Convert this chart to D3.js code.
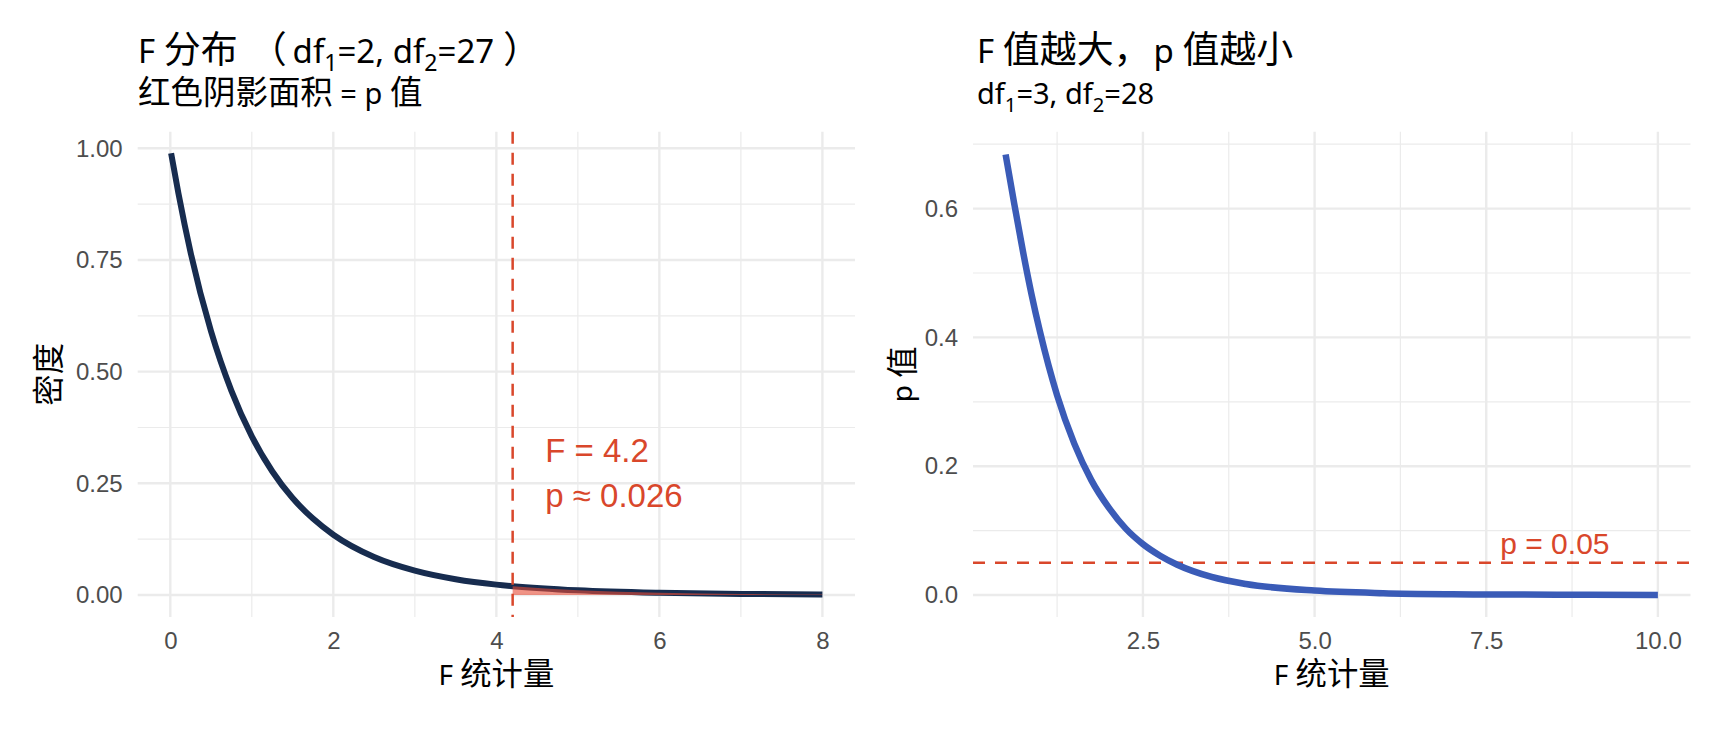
<!DOCTYPE html>
<html>
<head>
<meta charset="utf-8">
<script src="https://cdn.jsdelivr.net/npm/d3@7"></script>
<style>
  body { margin: 0; background: #fff; }
  svg { display: block; }
</style>
</head>
<body>
<div id="graphic"></div>
<script>
// left panel: F(2,27) density
const leftF = [0.01, 0.1, 0.25, 0.5, 0.75, 1, 1.25, 1.5, 1.75, 2, 2.5, 3, 3.5, 4, 4.2, 5, 6, 7, 8];
const leftDensity = [0.989, 0.899, 0.766, 0.590, 0.457, 0.355, 0.277, 0.217, 0.171, 0.135, 0.085, 0.0545, 0.0353, 0.0232, 0.0197, 0.0104, 0.0048, 0.0023, 0.0012];
const leftXTicks = [0, 2, 4, 6, 8];
const leftXMinor = [1, 3, 5, 7];
const leftYTicks = [0, 0.25, 0.5, 0.75, 1];
const leftYMinor = [0.125, 0.375, 0.625, 0.875];
const fObserved = 4.2;
const pObserved = 0.026;

// right panel: p value vs F, df 3 and 28
const rightF = [0.5, 0.625, 0.75, 0.875, 1, 1.25, 1.5, 1.75, 2, 2.25, 2.5, 2.75, 3, 3.5, 4, 5, 6, 7, 8, 9, 10];
const rightP = [0.684, 0.608, 0.535, 0.468, 0.409, 0.310, 0.235, 0.178, 0.136, 0.103, 0.079, 0.061, 0.047, 0.028, 0.017, 0.0068, 0.0028, 0.0012, 0.0006, 0.0003, 0.0001];
const rightXTicks = [2.5, 5, 7.5, 10];
const rightXMinor = [1.25, 3.75, 6.25, 8.75];
const rightYTicks = [0, 0.2, 0.4, 0.6];
const rightYMinor = [0.1, 0.3, 0.5, 0.7];
const alpha = 0.05;

const navy = "#172c4f", blue = "#3a5bb7", red = "#d9472b";
const cjk = "'Noto Sans', 'Noto Sans CJK SC', sans-serif";
const tickFont = "'Liberation Sans', Arial, sans-serif";

const svg = d3.select("#graphic")
    .append("svg")
    .attr("width", 1728)
    .attr("height", 729);

svg.append("rect").attr("width", 1728).attr("height", 729).attr("fill", "#fff");

const panelTop = 131.7, panelBottom = 617;

// text made of segments; CJK runs a bit larger, subscripts dropped
const cjkRe = /[\u3000-\u303f\u3400-\u9fff\uff00-\uffef]/;
function rich(sel, segs, size) {
    let shift = 0;
    segs.forEach(s => {
        const want = s.sub ? 8 : 0;
        const parts = s.t.match(/[\u3000-\u303f\u3400-\u9fff\uff00-\uffef]+|[^\u3000-\u303f\u3400-\u9fff\uff00-\uffef]+/g);
        parts.forEach((p, i) => {
            let fs = s.sub ? size * 0.7 : size;
            if (cjkRe.test(p)) fs *= 1.12;
            const t = sel.append("tspan").text(p).attr("font-size", fs);
            if (want !== shift) { t.attr("dy", want - shift); shift = want; }
            if (i === 0 && s.dx) t.attr("dx", s.dx);
        });
    });
}

function panel(opt) {
    const g = svg.append("g");
    const x = d3.scaleLinear().domain(opt.xDomain).range([opt.left, opt.right]);
    const y = d3.scaleLinear().domain(opt.yDomain).range([panelBottom, panelTop]);

    // grid
    g.selectAll(".hmin").data(opt.yMinor).join("line")
        .attr("x1", opt.left).attr("x2", opt.right)
        .attr("y1", d => y(d)).attr("y2", d => y(d))
        .attr("stroke", "#ebebeb").attr("stroke-width", 1.2);
    g.selectAll(".vmin").data(opt.xMinor).join("line")
        .attr("y1", panelTop).attr("y2", panelBottom)
        .attr("x1", d => x(d)).attr("x2", d => x(d))
        .attr("stroke", "#ebebeb").attr("stroke-width", 1.2);
    g.selectAll(".hmaj").data(opt.yTicks).join("line")
        .attr("x1", opt.left).attr("x2", opt.right)
        .attr("y1", d => y(d)).attr("y2", d => y(d))
        .attr("stroke", "#ebebeb").attr("stroke-width", 2.4);
    g.selectAll(".vmaj").data(opt.xTicks).join("line")
        .attr("y1", panelTop).attr("y2", panelBottom)
        .attr("x1", d => x(d)).attr("x2", d => x(d))
        .attr("stroke", "#ebebeb").attr("stroke-width", 2.4);

    // axes
    const xa = g.append("g")
        .attr("transform", `translate(0,${panelBottom})`)
        .call(d3.axisBottom(x).tickValues(opt.xTicks).tickFormat(opt.xFormat).tickSize(0).tickPadding(15));
    const ya = g.append("g")
        .attr("transform", `translate(${opt.left},0)`)
        .call(d3.axisLeft(y).tickValues(opt.yTicks).tickFormat(opt.yFormat).tickSize(0).tickPadding(15));
    [xa, ya].forEach(a => {
        a.select(".domain").remove();
        a.selectAll("text")
            .attr("font-family", tickFont)
            .attr("font-size", 24)
            .attr("fill", "#4d4d4d");
    });

    // titles
    g.append("text")
        .attr("x", opt.titleX).attr("y", 63)
        .attr("font-family", cjk).attr("fill", "#000")
        .call(rich, opt.title, 33);
    g.append("text")
        .attr("x", opt.titleX).attr("y", 104)
        .attr("font-family", cjk).attr("fill", "#000")
        .call(rich, opt.subtitle, 29);

    g.append("text")
        .attr("x", (opt.left + opt.right) / 2).attr("y", 685)
        .attr("text-anchor", "middle")
        .attr("font-family", cjk)
        .call(rich, [{ t: "F 统计量" }], 28);
    g.append("text")
        .attr("transform", `translate(${opt.yTitleX},${(panelTop + panelBottom) / 2}) rotate(-90)`)
        .attr("text-anchor", "middle")
        .attr("dominant-baseline", "central")
        .attr("font-family", cjk)
        .call(rich, [{ t: opt.yTitle }], 28);

    return { g, x, y };
}

// ---------- left ----------
const L = panel({
    left: 137.7, right: 855,
    xDomain: [-0.4, 8.4], yDomain: [-0.0493, 1.0372],
    xTicks: leftXTicks, xMinor: leftXMinor,
    yTicks: leftYTicks, yMinor: leftYMinor,
    xFormat: d3.format("d"), yFormat: d3.format(".2f"),
    titleX: 138, yTitleX: 47, yTitle: "密度",
    title: [{ t: "F 分布" }, { t: "（", dx: 12 }, { t: "df", dx: 6 }, { t: "1", sub: true }, { t: "=2, df" },
        { t: "2", sub: true }, { t: "=27" }, { t: "）", dx: 9 }],
    subtitle: [{ t: "红色阴影面积 = p 值" }]
});

const leftData = leftF.map((f, i) => ({ f, d: leftDensity[i] }));

L.g.append("path")
    .datum(leftData)
    .attr("fill", "none")
    .attr("stroke", navy)
    .attr("stroke-width", 6)
    .attr("d", d3.line().x(d => L.x(d.f)).y(d => L.y(d.d)).curve(d3.curveMonotoneX));

L.g.append("path")
    .datum(leftData.filter(d => d.f >= fObserved))
    .attr("fill", "#e64b35")
    .attr("fill-opacity", 0.6)
    .attr("d", d3.area().x(d => L.x(d.f)).y0(L.y(0)).y1(d => L.y(d.d)).curve(d3.curveMonotoneX));

L.g.append("line")
    .attr("x1", L.x(fObserved)).attr("x2", L.x(fObserved))
    .attr("y1", panelTop).attr("y2", panelBottom)
    .attr("stroke", red).attr("stroke-width", 2.5)
    .attr("stroke-dasharray", "12,9");

const anno = L.g.append("text")
    .attr("font-family", tickFont).attr("font-size", 33).attr("fill", red);
anno.append("tspan").attr("x", L.x(4.6)).attr("y", L.y(0.27) - 12).text("F = " + fObserved);
anno.append("tspan").attr("x", L.x(4.6)).attr("y", L.y(0.27) + 33).text("p ≈ " + pObserved);

// ---------- right ----------
const R = panel({
    left: 973, right: 1690.5,
    xDomain: [0.025, 10.475], yDomain: [-0.0342, 0.7194],
    xTicks: rightXTicks, xMinor: rightXMinor,
    yTicks: rightYTicks, yMinor: rightYMinor,
    xFormat: d3.format(".1f"), yFormat: d3.format(".1f"),
    titleX: 977, yTitleX: 901, yTitle: "p 值",
    title: [{ t: "F 值越大，" }, { t: "p 值越小", dx: 3 }],
    subtitle: [{ t: "df" }, { t: "1", sub: true }, { t: "=3, df" }, { t: "2", sub: true }, { t: "=28" }]
});

R.g.append("line")
    .attr("x1", 973).attr("x2", 1690.5)
    .attr("y1", R.y(alpha)).attr("y2", R.y(alpha))
    .attr("stroke", red).attr("stroke-width", 2.5)
    .attr("stroke-dasharray", "12,10");

R.g.append("path")
    .datum(rightF.map((f, i) => ({ f, p: rightP[i] })))
    .attr("fill", "none")
    .attr("stroke", blue)
    .attr("stroke-width", 6.5)
    .attr("d", d3.line().x(d => R.x(d.f)).y(d => R.y(d.p)).curve(d3.curveMonotoneX));

R.g.append("text")
    .attr("x", R.x(8.5)).attr("y", R.y(alpha) - 9)
    .attr("text-anchor", "middle")
    .attr("font-family", tickFont).attr("font-size", 30).attr("fill", red)
    .text("p = " + alpha);
</script>
</body>
</html>
